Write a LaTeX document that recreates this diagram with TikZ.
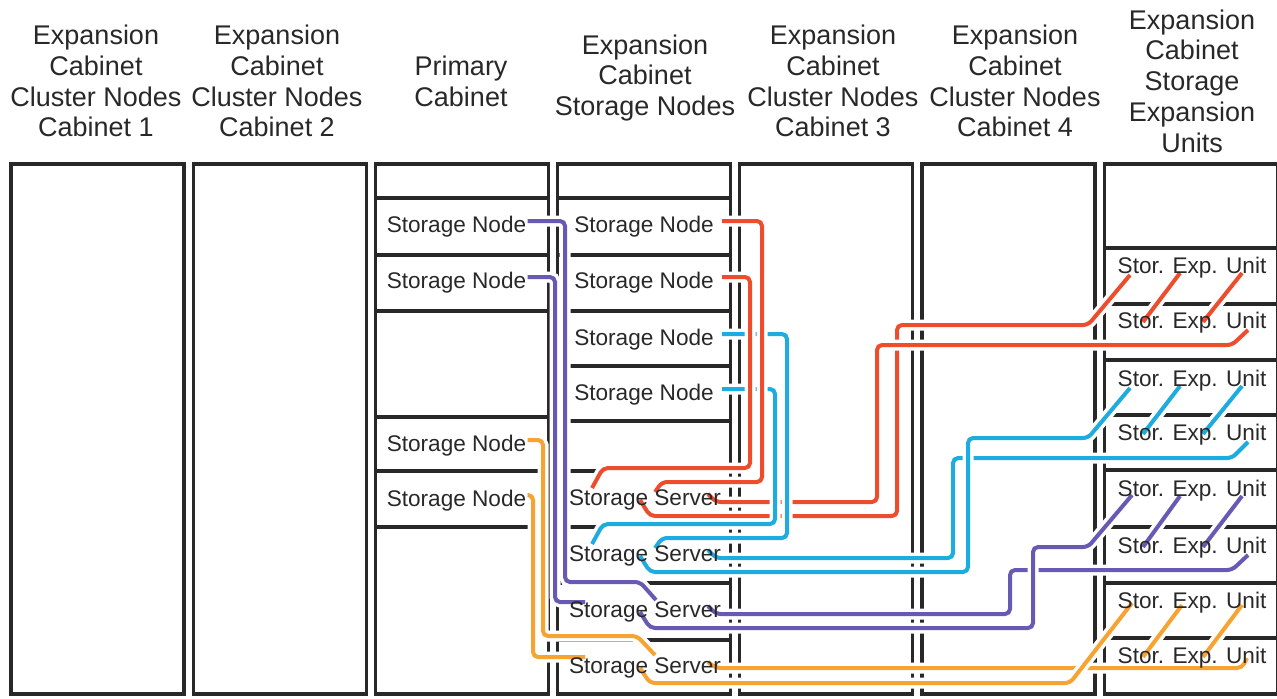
\documentclass[tikz,border=0pt]{standalone}
\usepackage{fontspec}
\setmainfont{Liberation Sans}
\usetikzlibrary{calc}
\pgfdeclarelayer{cab}
\pgfdeclarelayer{wire}
\pgfsetlayers{cab,wire,main}
\definecolor{cRed}{RGB}{238,77,45}
\definecolor{cCyan}{RGB}{29,172,224}
\definecolor{cPurple}{RGB}{102,90,181}
\definecolor{cOrange}{RGB}{247,163,50}
\definecolor{cWall}{RGB}{40,40,40}
\definecolor{cText}{RGB}{40,40,40}
\begin{document}
\begin{tikzpicture}[x=0.5pt,y=-0.5pt,
  hdr/.style={font=\fontsize{13.5}{15.4}\selectfont,align=center,text=cText,inner sep=0},
  lbl/.style={font=\fontsize{11.3}{13}\selectfont,text=cText,inner sep=0,anchor=base},
  cabinet/.style={draw=cWall,line width=1.6pt},
  divider/.style={draw=cWall,line width=1.6pt},
  cable/.style={line width=2pt,rounded corners=2.5pt,preaction={draw=white,line width=5.5pt}},
  chain/.style={line width=2pt,preaction={draw=white,line width=5.5pt}}
]
\useasboundingbox (0,0) rectangle (1277,698);

% headers
\node[hdr] (h1) at (96,81) {Expansion\\Cabinet\\Cluster Nodes\\Cabinet 1};
\node[hdr] (h2) at (277,81) {Expansion\\Cabinet\\Cluster Nodes\\Cabinet 2};
\node[hdr] (h3) at (461,81) {Primary\\Cabinet};
\node[hdr] (h4) at (645,78) {Expansion\\Cabinet\\Storage Nodes};
\node[hdr] (h5) at (833,81) {Expansion\\Cabinet\\Cluster Nodes\\Cabinet 3};
\node[hdr] (h6) at (1015,81) {Expansion\\Cabinet\\Cluster Nodes\\Cabinet 4};
\node[hdr] (h7) at (1192,81) {Expansion\\Cabinet\\Storage\\Expansion\\Units};

% cabinets
\begin{pgfonlayer}{cab}
\foreach \i in {0,...,6} {
  \draw[cabinet] ({11+182.2*\i},164) rectangle ({184+182.2*\i},694);
}
% primary cabinet dividers
\foreach \y in {198,255,311,417,471,527}
  \draw[divider] (375,\y) -- (548,\y);
% expansion storage cabinet dividers
\foreach \y in {198,255,311,366,421,471,527,583,640}
  \draw[divider] (557,\y) -- (731,\y);
% expansion unit cabinet dividers
\foreach \y in {248,304,360,415,470,527,583,638}
  \draw[divider] (1104,\y) -- (1277,\y);
\end{pgfonlayer}

% labels
\node[lbl] (pn1) at (456.5,232) {Storage Node};
\node[lbl] (pn2) at (456.5,288) {Storage Node};
\node[lbl] (pn3) at (456.5,451) {Storage Node};
\node[lbl] (pn4) at (456.5,506) {Storage Node};
\node[lbl] (en1) at (644,232) {Storage Node};
\node[lbl] (en2) at (644,288) {Storage Node};
\node[lbl] (en3) at (644,345) {Storage Node};
\node[lbl] (en4) at (644,400) {Storage Node};
\coordinate (s1) at (645,497);
\coordinate (s2) at (645,553);
\coordinate (s3) at (645,609);
\coordinate (s4) at (645,665);
\foreach \k in {1,...,4}
  \node[lbl] (ss\k) at ($(s\k)+(0,8)$) {Storage Server};
\coordinate (v1) at (1192,265);
\coordinate (v2) at (1192,320);
\coordinate (v3) at (1192,378);
\coordinate (v4) at (1192,432);
\coordinate (v5) at (1192,488);
\coordinate (v6) at (1192,545);
\coordinate (v7) at (1192,600);
\coordinate (v8) at (1192,655);
\foreach \k in {1,...,8}
  \node[lbl] (u\k) at ($(v\k)+(0,8)$) {Stor. Exp. Unit};

\begin{pgfonlayer}{wire}
% cyan upper parts
\draw[cable,draw=cCyan] ($(en3.base east)+(8,-11)$) -| (787,430);
\draw[cable,draw=cCyan] ($(en4.base east)+(8,-11)$) -| (775,430);
% red
\draw[cable,draw=cRed] ($(en2.base east)+(8,-11)$) -| (750,468) -- ($(s1)+(-42,-29)$) -- ($(s1)+(-53,-9)$);
\draw[cable,draw=cRed] ($(en1.base east)+(8,-11)$) -| (762,482) -- ($(s1)+(17,-15)$) -- ($(s1)+(10,-5)$);
\draw[cable,draw=cRed] ($(s1)+(-5,3)$) -- ($(s1)+(5,19)$) -| (897,325) -- (1088,325) -- ($(v1)+(-62,10)$);
\draw[cable,draw=cRed] ($(s1)+(63,-3)$) -- ($(s1)+(71,5)$) -| (877,345) -- (1232,345) -- ($(v2)+(56,10)$);
% cyan lower parts
\draw[cable,draw=cCyan] (787,430) -- (787,538) -- ($(s2)+(17,-15)$) -- ($(s2)+(10,-5)$);
\draw[cable,draw=cCyan] (775,430) -- (775,524) -- ($(s2)+(-42,-29)$) -- ($(s2)+(-53,-9)$);
\draw[cable,draw=cCyan] ($(s2)+(63,-3)$) -- ($(s2)+(71,5)$) -| (953,458) -- (1232,458) -- ($(v4)+(56,10)$);
\draw[cable,draw=cCyan] ($(s2)+(-5,3)$) -- ($(s2)+(5,19)$) -| (968,438) -- (1088,438) -- ($(v3)+(-62,10)$);
% purple
\draw[cable,draw=cPurple] ($(pn1.base east)+(1,-11)$) -| (565,582) -- ($(s3)+(-5,-27)$) -- ($(s3)+(11,-9)$);
\draw[cable,draw=cPurple] ($(pn2.base east)+(1,-11)$) -| (555,602) -- ($(s3)+(-60,-7)$);
\draw[cable,draw=cPurple] ($(s3)+(63,-3)$) -- ($(s3)+(71,5)$) -| (1010,570) -- (1232,570) -- ($(v6)+(56,10)$);
\draw[cable,draw=cPurple] ($(s3)+(-5,3)$) -- ($(s3)+(5,19)$) -| (1033,547) -- (1088,547) -- ($(v5)+(-60,7)$);
% orange
\draw[cable,draw=cOrange] ($(pn3.base east)+(1,-11)$) -| (543,636) -- ($(s4)+(-8,-29)$) -- ($(s4)+(10,-10)$);
\draw[cable,draw=cOrange] ($(pn4.base east)+(1,-11)$) -| (533,657) -- ($(s4)+(-60,-8)$);
\draw[cable,draw=cOrange] ($(s4)+(63,-3)$) -- ($(s4)+(71,3)$) -- ($(v8)+(50,13)$) -- ($(v8)+(55,3)$);
\draw[cable,draw=cOrange] ($(s4)+(-5,3)$) -- ($(s4)+(5,18)$) -- (1070,683) -- ($(v7)+(-60,3)$);
% daisy chains between units
\draw[chain,draw=cRed] ($(v2)+(-49,2)$) -- ($(v1)+(-12,8)$);
\draw[chain,draw=cRed] ($(v2)+(11,2)$) -- ($(v1)+(50,8)$);
\draw[chain,draw=cCyan] ($(v4)+(-49,2)$) -- ($(v3)+(-12,8)$);
\draw[chain,draw=cCyan] ($(v4)+(11,2)$) -- ($(v3)+(50,8)$);
\draw[chain,draw=cPurple] ($(v6)+(-49,2)$) -- ($(v5)+(-12,8)$);
\draw[chain,draw=cPurple] ($(v6)+(11,2)$) -- ($(v5)+(50,8)$);
\draw[chain,draw=cOrange] ($(v8)+(-49,2)$) -- ($(v7)+(-10,5)$);
\draw[chain,draw=cOrange] ($(v8)+(11,2)$) -- ($(v7)+(50,5)$);
\end{pgfonlayer}
\end{tikzpicture}
\end{document}
